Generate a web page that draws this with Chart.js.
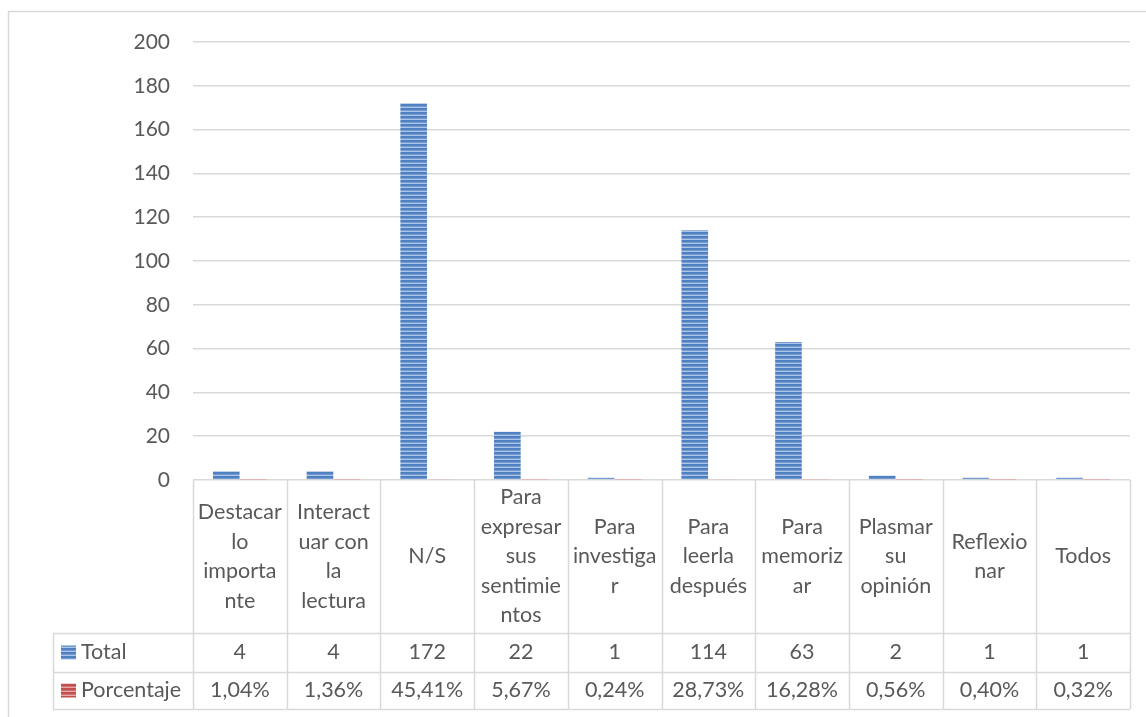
<!DOCTYPE html>
<html>
<head>
<meta charset="utf-8">
<script src="https://cdn.jsdelivr.net/npm/chart.js@4.4.1/dist/chart.umd.min.js"></script>
<style>
  html, body { margin: 0; padding: 0; background: #ffffff; }
  #wrap { width: 1146px; height: 717px; position: relative; }
</style>
</head>
<body>
<div id="wrap"><canvas id="chart" width="1146" height="717"></canvas></div>
<script>
// Category labels, already broken into the lines shown in the data table header
const categories = [
  ["Destacar", "lo", "importa", "nte"],
  ["Interact", "uar con", "la", "lectura"],
  ["N/S"],
  ["Para", "expresar", "sus", "sentimie", "ntos"],
  ["Para", "investiga", "r"],
  ["Para", "leerla", "después"],
  ["Para", "memoriz", "ar"],
  ["Plasmar", "su", "opinión"],
  ["Reflexio", "nar"],
  ["Todos"]
];
const seriesNames = ["Total", "Porcentaje"];
const totals = [4, 4, 172, 22, 1, 114, 63, 2, 1, 1];
// percentages as stored fractions (plotted on the same axis as the counts)
const percentages = [0.0104, 0.0136, 0.4541, 0.0567, 0.0024, 0.2873, 0.1628, 0.0056, 0.0040, 0.0032];
const yTicks = [0, 20, 40, 60, 80, 100, 120, 140, 160, 180, 200];

const FONT = "Lato, 'Open Sans', sans-serif";
const TEXT = "#595959";
const LINE = "#d9d9d9";

function stripes(dark, mid, light) {
  const c = document.createElement("canvas");
  c.width = 4; c.height = 4;
  const g = c.getContext("2d");
  g.fillStyle = dark; g.fillRect(0, 0, 4, 2);
  g.fillStyle = mid; g.fillRect(0, 2, 4, 1);
  g.fillStyle = light; g.fillRect(0, 3, 4, 1);
  return g.createPattern(c, "repeat");
}
const bluePattern = stripes("#4f81c0", "#769cd2", "#abc4e7");
const redPattern = stripes("#c0504d", "#d07270", "#e6a9a7");

function fmtPct(v) {
  return (v * 100).toFixed(2).replace(".", ",") + "%";
}

// Draws the data table under the plot plus the outer chart frame
const dataTable = {
  id: "dataTable",
  afterDraw(chart) {
    const ctx = chart.ctx;
    const area = chart.chartArea;
    const xs = chart.scales.x;
    const n = categories.length;
    const colW = (area.right - area.left) / n;
    const top = area.bottom;
    const rowTop1 = 633, rowTop2 = 672, rowBottom = 709;
    const tableLeft = 53;

    ctx.save();
    ctx.strokeStyle = LINE;
    ctx.lineWidth = 1.5;
    ctx.beginPath();
    // vertical column separators
    for (let i = 0; i <= n; i++) {
      const x = Math.round(area.left + i * colW) + 0.5;
      ctx.moveTo(x, top); ctx.lineTo(x, rowBottom);
    }
    // legend column left edge
    ctx.moveTo(tableLeft + 0.5, rowTop1); ctx.lineTo(tableLeft + 0.5, rowBottom);
    // row lines
    [rowTop1, rowTop2, rowBottom].forEach(y => {
      ctx.moveTo(tableLeft, y + 0.5); ctx.lineTo(area.right, y + 0.5);
    });
    // chart frame
    ctx.moveTo(8.5, 717); ctx.lineTo(8.5, 11.5); ctx.lineTo(1146, 11.5);
    ctx.stroke();

    ctx.fillStyle = TEXT;
    ctx.font = "21.5px " + FONT;
    ctx.textAlign = "center";
    ctx.textBaseline = "middle";
    const lh = 29.5;
    const headMid = (top + rowTop1) / 2;
    const mid1 = (rowTop1 + rowTop2) / 2;
    const mid2 = (rowTop2 + rowBottom) / 2;
    for (let i = 0; i < n; i++) {
      const cx = xs.getPixelForValue(i);
      const lines = categories[i];
      const y0 = headMid - (lines.length - 1) * lh / 2;
      lines.forEach((t, k) => ctx.fillText(t, cx, y0 + k * lh));
      ctx.fillText(String(totals[i]), cx, mid1);
      ctx.fillText(fmtPct(percentages[i]), cx, mid2);
    }

    // legend keys
    ctx.fillStyle = bluePattern;
    ctx.fillRect(61, mid1 - 7, 15, 14);
    ctx.fillStyle = redPattern;
    ctx.fillRect(61, mid2 - 7, 15, 14);
    ctx.fillStyle = TEXT;
    ctx.textAlign = "left";
    ctx.fillText(seriesNames[0], 81, mid1);
    ctx.fillText(seriesNames[1], 81, mid2);
    ctx.restore();
  }
};

new Chart(document.getElementById("chart"), {
  type: "bar",
  data: {
    labels: categories.map(l => l.join(" ")),
    datasets: [
      { label: seriesNames[0], data: totals, backgroundColor: bluePattern, borderWidth: 0,
        categoryPercentage: 0.58, barPercentage: 0.98 },
      { label: seriesNames[1], data: percentages, backgroundColor: redPattern, borderWidth: 0,
        categoryPercentage: 0.58, barPercentage: 0.98 }
    ]
  },
  options: {
    responsive: false,
    animation: false,
    layout: { padding: { top: 42, right: 16, bottom: 0, left: 0 } },
    plugins: { legend: { display: false }, tooltip: { enabled: false } },
    scales: {
      x: {
        ticks: { display: false },
        grid: { display: false },
        border: { display: false },
        afterFit(scale) { scale.height = 237; }
      },
      y: {
        min: 0, max: 200,
        afterBuildTicks(scale) { scale.ticks = yTicks.map(v => ({ value: v })); },
        ticks: { color: TEXT, font: { family: FONT, size: 21 }, padding: 23 },
        grid: { color: LINE, lineWidth: 1.5, drawTicks: false },
        border: { display: false },
        afterFit(scale) { scale.width = 193; }
      }
    }
  },
  plugins: [dataTable]
});
</script>
</body>
</html>
